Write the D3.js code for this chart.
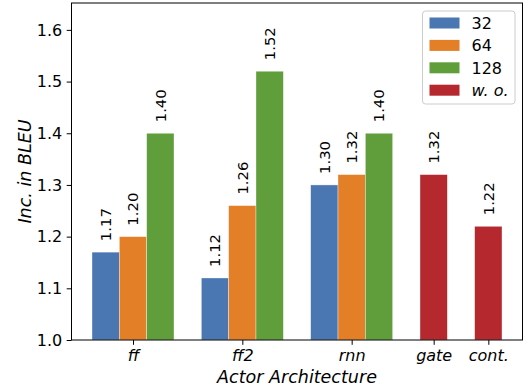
<!DOCTYPE html>
<html>
<head>
<meta charset="utf-8">
<script src="https://cdn.jsdelivr.net/npm/d3@7"></script>
<style>
  html, body { margin: 0; padding: 0; background: #fff; }
  svg { display: block; font-family: "DejaVu Sans", sans-serif; }
</style>
</head>
<body>
<svg id="chart" width="524" height="390"></svg>
<script>
// Architecture groups and their positions on the x axis
const categories = ["ff", "ff2", "rnn", "gate", "cont."];
const categoryPos = [0, 1, 2, 2.75, 3.25];

// Hidden size series (grouped bars for ff / ff2 / rnn)
const seriesNames = ["32", "64", "128"];
const values32 = [1.17, 1.12, 1.30];
const values64 = [1.20, 1.26, 1.32];
const values128 = [1.40, 1.52, 1.40];

// Single bars without hidden size (gate / cont.)
const woName = "w. o.";
const woValues = [1.32, 1.22];

const yTicks = [1.0, 1.1, 1.2, 1.3, 1.4, 1.5, 1.6];

const colors = { "32": "#4a77b2", "64": "#e27f27", "128": "#5f9e3b", "w. o.": "#b5292e" };

const margin = { left: 71.5, right: 1.5, top: 3, bottom: 50 };
const W = 524, H = 390;
const barW = 0.25;
const tickFont = 16;
const valueFont = 14.8;

const svg = d3.select("#chart");
const x = d3.scaleLinear().domain([-0.5625, 3.5625]).range([margin.left, W - margin.right]);
const y = d3.scaleLinear().domain([1.0, 1.652]).range([H - margin.bottom, margin.top]);

// Assemble bar records from the series arrays
const bars = [];
const seriesVals = [values32, values64, values128];
seriesVals.forEach((vals, si) => {
  vals.forEach((v, ci) => {
    bars.push({ series: seriesNames[si], value: v, xc: categoryPos[ci] + (si - 1) * barW });
  });
});
woValues.forEach((v, i) => {
  bars.push({ series: woName, value: v, xc: categoryPos[3 + i] });
});

const g = svg.append("g");

// Bars
g.selectAll("rect.bar").data(bars).enter().append("rect")
  .attr("class", "bar")
  .attr("x", d => x(d.xc - barW / 2))
  .attr("width", d => x(d.xc + barW / 2) - x(d.xc - barW / 2))
  .attr("y", d => y(d.value))
  .attr("height", d => y(1.0) - y(d.value))
  .attr("fill", d => colors[d.series])
  .attr("stroke", "#ffffff")
  .attr("stroke-opacity", 0.6)
  .attr("stroke-width", 0.6);

// Value labels, rotated above each bar
g.selectAll("text.val").data(bars).enter().append("text")
  .attr("class", "val")
  .attr("transform", d => `translate(${x(d.xc)},${y(d.value) - 11}) rotate(-90)`)
  .attr("text-anchor", "start")
  .attr("dy", "0.36em")
  .attr("font-size", valueFont)
  .attr("fill", "#000")
  .text(d => d.value.toFixed(2));

// Y axis
const yAxis = d3.axisLeft(y).tickValues(yTicks).tickFormat(d3.format(".1f")).tickSize(4.8).tickPadding(4.5);
const yg = svg.append("g").attr("transform", `translate(${margin.left},0)`).call(yAxis);
yg.select(".domain").remove();
yg.selectAll("text").attr("font-size", tickFont).attr("font-family", "DejaVu Sans").attr("fill", "#000");
yg.selectAll("line").attr("stroke", "#000").attr("stroke-width", 1);

// X axis
const xAxis = d3.axisBottom(x).tickValues(categoryPos).tickFormat((d, i) => categories[i]).tickSize(4.8).tickPadding(4.5);
const xg = svg.append("g").attr("transform", `translate(0,${y(1.0)})`).call(xAxis);
xg.select(".domain").remove();
xg.selectAll("text").attr("font-size", tickFont).attr("font-family", "DejaVu Sans")
  .attr("font-style", "italic").attr("fill", "#000");
xg.selectAll("line").attr("stroke", "#000").attr("stroke-width", 1);

// Frame
svg.append("rect")
  .attr("x", margin.left).attr("y", margin.top)
  .attr("width", W - margin.right - margin.left)
  .attr("height", y(1.0) - margin.top)
  .attr("fill", "none").attr("stroke", "#000").attr("stroke-width", 1);

// Axis titles
svg.append("text")
  .attr("x", (margin.left + W - margin.right) / 2)
  .attr("y", 382.5)
  .attr("text-anchor", "middle")
  .attr("font-size", 17.5)
  .attr("font-style", "italic")
  .text("Actor Architecture");

svg.append("text")
  .attr("transform", `translate(31,${(margin.top + y(1.0)) / 2}) rotate(-90)`)
  .attr("text-anchor", "middle")
  .attr("font-size", 17.5)
  .attr("font-style", "italic")
  .text("Inc. in BLEU");

// Legend
const legendItems = seriesNames.concat([woName]);
const lg = svg.append("g").attr("transform", "translate(422.5,11)");
lg.append("rect")
  .attr("width", 92.5).attr("height", 93)
  .attr("rx", 3)
  .attr("fill", "#fff").attr("fill-opacity", 0.8)
  .attr("stroke", "#cccccc").attr("stroke-width", 1);
legendItems.forEach((name, i) => {
  const row = lg.append("g").attr("transform", `translate(0,${12 + i * 22.4})`);
  row.append("rect")
    .attr("x", 7).attr("y", -5.5)
    .attr("width", 30).attr("height", 11)
    .attr("fill", colors[name]);
  row.append("text")
    .attr("x", 49).attr("y", 0).attr("dy", "0.36em")
    .attr("font-size", tickFont)
    .attr("font-style", name === woName ? "italic" : "normal")
    .text(name);
});
</script>
</body>
</html>
